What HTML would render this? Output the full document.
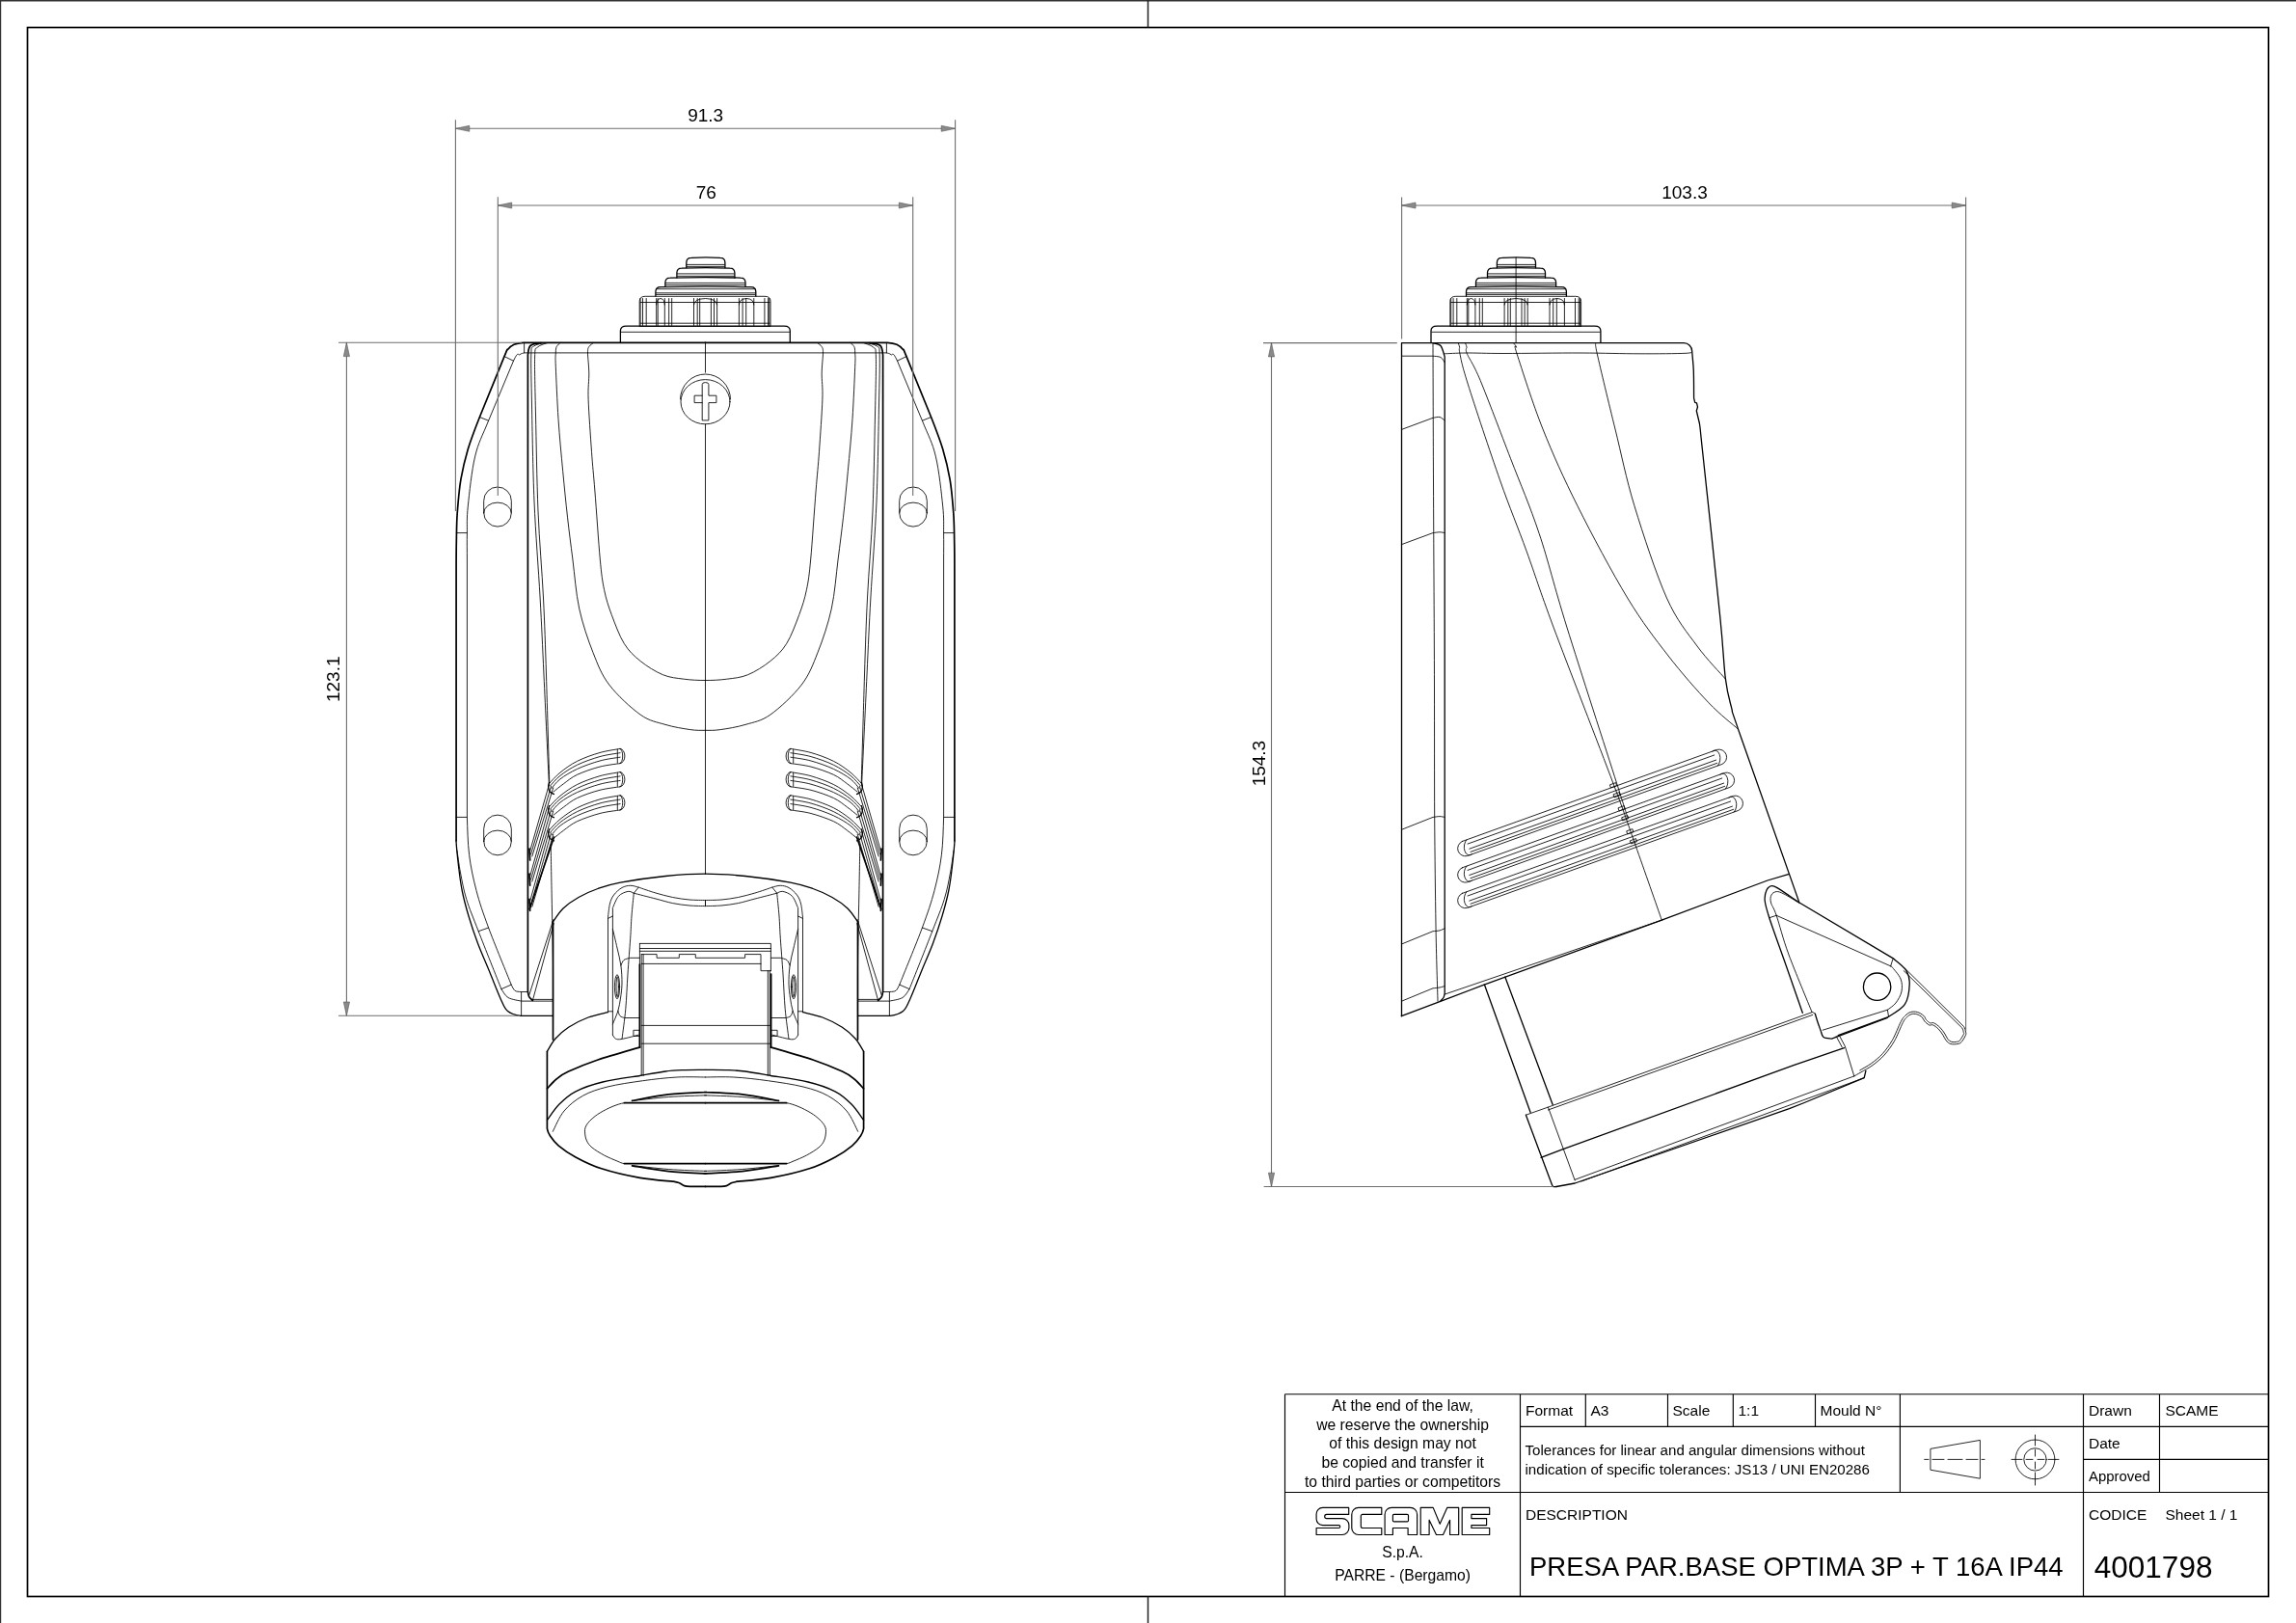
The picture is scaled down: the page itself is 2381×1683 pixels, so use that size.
<!DOCTYPE html>
<html><head><meta charset="utf-8">
<style>
html,body{margin:0;padding:0;background:#fff;overflow:hidden;}
svg{display:block;will-change:transform;}
text{font-family:"Liberation Sans",sans-serif;fill:#000;}
.b{fill:none;stroke:#000;stroke-width:0.85;stroke-linejoin:round;stroke-linecap:round;}
.k{fill:none;stroke:#000;stroke-width:1.7;stroke-linejoin:round;stroke-linecap:round;}
.m{fill:none;stroke:#000;stroke-width:1.3;stroke-linejoin:round;stroke-linecap:round;}
.ks{fill:none;stroke:#000;stroke-width:1.3;stroke-linejoin:round;stroke-linecap:round;}
.d{fill:none;stroke:#6e6e6e;stroke-width:1.1;}
.ar{fill:#8a8a8a;stroke:#555;stroke-width:0.6;}
.tb{fill:none;stroke:#000;stroke-width:1.15;}
</style></head>
<body>
<svg width="2381" height="1683" viewBox="0 0 2381 1683">
<!-- outer sheet edges -->
<path d="M0.5 0 V1683 M0 0.7 H2381" stroke="#333" stroke-width="1.4" fill="none"/>
<!-- inner frame -->
<rect x="28.5" y="28.5" width="2324" height="1627" fill="none" stroke="#000" stroke-width="1.7"/>
<path d="M1190.5 0 V28.5 M1190.5 1655.5 V1683" stroke="#222" stroke-width="1.5" fill="none"/>

<g id="front">
<path class="m" d="M711.8 277.7 V272.4 C711.8 269.4 713.8 267.4 716.8 267.4 Q731.8 266.4 746.9 267.4 C749.9 267.4 751.9 269.4 751.9 272.4 V277.7"/>
<path class="b" d="M712.4 274.4 H751.3"/>
<path class="b" d="M712.4 276.4 H751.3"/>
<path class="m" d="M701.9 288.1 V283.1 C701.9 280.1 703.9 278.1 706.9 278.1 Q731.9 277.1 756.9 278.1 C759.9 278.1 761.9 280.1 761.9 283.1 V288.1"/>
<path class="b" d="M702.5 283.9 H761.3"/>
<path class="b" d="M702.5 286.3 H761.3"/>
<path class="m" d="M689.9 297.2 V293.1 C689.9 290.1 691.9 288.1 694.9 288.1 Q731.5 287.1 768 288.1 C771 288.1 773 290.1 773 293.1 V297.2"/>
<path class="b" d="M690.5 293.4 H772.4"/>
<path class="b" d="M690.5 295.5 H772.4"/>
<path class="m" d="M679.9 307.1 V302.6 C679.9 299.6 681.9 297.6 684.9 297.6 Q731.8 296.6 778.8 297.6 C781.8 297.6 783.8 299.6 783.8 302.6 V307.1"/>
<path class="b" d="M680.5 299.7 H783.2"/>
<path class="b" d="M680.5 303.8 H783.2"/>
<path class="b" d="M680.5 305.4 H783.2"/>
<path class="b" d="M663.2 338.1 V312.3 Q663.2 307.3 669.2 307.3 H793 Q799 307.3 799 312.3 V338.1 Z"/>
<path class="b" d="M664.2 313.5 H798 M664.2 335.2 H798"/>
<path class="b" d="M664.1 309.5 V337.5"/>
<path class="b" d="M666.5 309.5 V337.5"/>
<path class="b" d="M670.2 309.5 V337.5"/>
<path class="b" d="M680.7 309.5 V337.5"/>
<path class="b" d="M682.2 309.5 V337.5"/>
<path class="b" d="M689.3 309.5 V337.5"/>
<path class="b" d="M693.7 309.5 V337.5"/>
<path class="b" d="M696.7 309.5 V337.5"/>
<path class="b" d="M719.5 309.5 V337.5"/>
<path class="b" d="M723.2 309.5 V337.5"/>
<path class="b" d="M725.7 309.5 V337.5"/>
<path class="b" d="M737.4 309.5 V337.5"/>
<path class="b" d="M740.5 309.5 V337.5"/>
<path class="b" d="M743.6 309.5 V337.5"/>
<path class="b" d="M766.4 309.5 V337.5"/>
<path class="b" d="M770.1 309.5 V337.5"/>
<path class="b" d="M773.7 309.5 V337.5"/>
<path class="b" d="M781.8 309.5 V337.5"/>
<path class="b" d="M792.9 309.5 V337.5"/>
<path class="b" d="M796.6 309.5 V337.5"/>
<path class="b" d="M797.8 309.5 V337.5"/>
<path class="b" d="M680.7 316 Q680.7 310 685 309.5 Q689.3 310 689.3 316"/>
<path class="b" d="M719.5 316 Q719.5 310 731.5 309.5 Q743.6 310 743.6 316"/>
<path class="b" d="M766.4 316 Q766.4 310 774.1 309.5 Q781.8 310 781.8 316"/>
<path class="m" d="M643.4 355.4 V343.1 Q643.4 338.1 649.4 338.1 H813.3 Q819.3 338.1 819.3 343.1 V355.4"/>
<path class="b" d="M644.2 344.3 H818.5"/>
<g id="fl">
<path class="k" d="M731.5 355.3 H542.7C538.2 355.6 535.7 356.1 533 357.3C530.3 358.5 528.2 360.4 526.5 362.5C524.8 364.6 527.9 357.9 523 369.6L497.4 432.5C491.1 448.5 488.6 454.9 485.3 465.7C482.1 476.5 479.8 486.1 477.9 497.2C476 508.3 475 521.5 474.2 532.3C473.4 543.1 473.5 552.4 473.3 562C473.1 571.6 473.1 580.3 473.1 590V871.8"/>
<path class="m" d="M473 871.8C473.4 879.8 474.5 889.4 475.5 898C476.5 906.6 477.4 914.8 479.2 923.5C480.9 932.2 483.3 940.9 486 950C488.7 959.1 492 968.9 495.5 978.2C499 987.5 503.1 996.4 507 1006C510.9 1015.6 516 1028.8 519.2 1035.9C522.5 1043 523 1045.6 526.5 1048.5C530 1051.4 534.3 1052.6 539.9 1053.4H573.5"/>
<path class="b" d="M543.6 355.3 V366C542.2 366.3 540.9 366.3 539 367.7C537.1 369.1 537.9 362.8 532.5 374.2L506.6 436.2C500 452.7 496.2 458.3 492.7 473.1C489.1 487.9 486.7 511.6 485.3 524.9C483.9 538.1 484.5 543.4 484.4 552.6C484.2 561.8 484.4 572.1 484.4 580V847.4C484.8 858.5 485 873.8 486.6 886.5C488.2 899.2 490.7 910.9 494 923.5C497.3 936.1 500.6 945.7 506.6 962C512.6 978.3 526.3 1011.2 530.2 1021.1C530.8 1022.1 532.3 1026.1 534 1027.3C535.7 1028.5 537.9 1028.3 540.6 1028.5H547.3"/>
<path class="b" d="M474 882.1C474.6 885.9 475.9 896.6 477.5 905C479.1 913.4 480.6 922.3 483.7 932.4C486.8 942.5 490.2 950.2 496.2 965.7C502.2 981.2 515.9 1015.6 519.9 1025.6C521.1 1027.1 523.5 1032.4 527 1034.5C530.5 1036.6 538.3 1037.5 540.6 1038.1H573.5"/>
<path class="b" d="M523 369.6 L532.5 374.2 M497.4 432.5 L506.6 436.2 M473.3 552.6 H484.4 M473 847.4 H484.4 M496.2 965.7 L506.6 962 M519.9 1025.6 L530.2 1021.1 M540.6 1028.5 V1053.4"/>
<path class="b" d="M501.7 531.8 V519.3 A14.3 14.3 0 0 1 530.3 519.3 V531.8 A14.3 14.3 0 0 1 501.7 531.8 Z"/>
<path class="b" d="M501.7 531.8 A14.3 10.7 0 0 1 530.3 531.8"/>
<path class="b" d="M501.7 872.5 V859.4 A14.3 14.3 0 0 1 530.3 859.4 V872.5 A14.3 14.3 0 0 1 501.7 872.5 Z"/>
<path class="b" d="M501.7 872.5 A14.3 11.4 0 0 1 530.3 872.5"/>
<path class="k" d="M561 355.5C559.2 356 552.3 356.4 550 358.5C547.7 360.6 547.8 366.4 547.4 368V1028.5C547.6 1029.4 547.9 1032.2 548.7 1033.7C549.5 1035.2 551.8 1036.8 552.4 1037.4"/>
<path class="b" d="M565 355.5C563.1 356.1 555.9 356.9 553.5 359C551.1 361.1 551.1 357.8 550.8 368C550.5 378.2 551 394.7 551.5 420C552 445.3 552.6 486.7 554 520C555.4 553.3 558.4 590 560.1 620C561.8 650 562.5 667.7 564 700C565.5 732.3 568.5 795 569.4 814"/>
<path class="b" d="M568 355.5C566.2 356.2 559.7 357.6 557.5 360C555.3 362.4 554.9 358.3 554.6 370C554.3 381.7 554.9 403.3 555.5 430C556.1 456.7 556.7 498.3 558 530C559.3 561.7 562.1 591.7 563.5 620C564.9 648.3 565.5 668 566.5 700C567.5 732 569.2 793.3 569.8 812"/>
<path class="b" d="M543.6 365.9 H731.5"/>
<path class="b" d="M581 355.5C580.4 356.2 578 357.8 577.2 359.5C576.4 361.2 576.4 362.5 576.3 366C576.1 369.5 575.8 368.9 576.3 380.3C576.8 391.7 577.8 416.4 579 434.5C580.2 452.6 582.1 471.8 583.7 488.7C585.3 505.6 586.8 521 588.5 536.2C590.2 551.4 591.9 564.2 593.9 580C595.9 595.8 597.2 615 600.7 631.1C604.2 647.2 609.7 663.2 614.9 676.4C620.1 689.5 623.5 699.2 631.7 710C639.9 720.8 654.4 734.2 664.1 741.1C673.8 748 681.4 748.8 690 751.4C698.6 754 708.9 755.6 715.8 756.6C722.7 757.6 726.3 757.3 731.5 757.3"/>
<path class="b" d="M615.5 355.5C614.7 356.2 611.8 357.8 610.8 359.5C609.8 361.2 609.5 361.4 609.5 366C609.5 370.6 610.7 379.1 610.8 387.1C610.9 395.1 609.6 400.6 610.1 414.2C610.6 427.8 612.4 452.6 613.5 468.4C614.6 484.2 615.4 490.4 616.9 509C618.4 527.6 620.7 562.9 622.3 580C623.9 597.1 624.6 602.1 626.6 611.7C628.6 621.3 630.8 628.3 634.3 637.6C637.8 646.9 642.3 659.4 647.3 667.4C652.3 675.4 657.4 680.1 664.1 685.5C670.8 690.9 679.9 696.6 687.4 699.7C694.9 702.8 701.9 703.2 709.3 704.2C716.6 705.2 724.1 705.5 731.5 705.5"/>
<path class="b" d="M643.1 776.4C639.6 777.1 629.4 778.4 622 780.5C614.6 782.6 605.4 785.9 598.6 789.3C591.8 792.7 585.9 797.1 581 801C576.1 804.9 571.2 810.8 569.3 812.7"/>
<path class="b" d="M643.1 791.6C639.6 792.2 629.4 793.2 622 795.1C614.6 797 604.9 800.4 598.6 803.3C592.4 806.2 588.6 809.8 584.5 812.7C580.4 815.7 575.8 819.6 574 821"/>
<path class="b" d="M643.1 780.7C639.6 781.3 629.4 782.5 622 784.6C614.6 786.7 605.4 789.9 598.6 793.2C591.8 796.5 585.7 800.6 581 804.3C576.3 807.9 572.2 813.2 570.5 815"/>
<path class="b" d="M643.1 785.2C639.6 785.8 629.4 786.9 622 789C614.6 791 605.4 794.3 598.6 797.4C591.8 800.6 585.4 804.4 581 807.8C576.6 811.1 573.5 815.9 572 817.5"/>
<path class="b" d="M643.1 776.4 A4.8 7.6 0 0 1 643.1 791.6"/>
<path class="b" d="M643.1 776.4 A2.6 7.6 0 0 1 643.1 791.6 M640.3 777 V791.2"/>
<path class="m" d="M569.6 811.5C569.4 812.2 568.5 814.4 568.6 816C568.7 817.6 569.2 819.8 570.2 821C571.2 822.2 573.8 823.1 574.5 823.5"/>
<path class="b" d="M569.3 814 L549.2 884"/>
<path class="b" d="M571.5 815.5 L550.5 886"/>
<path class="b" d="M573.7 817 L551.8 888"/>
<path class="k" d="M549 880 L549.6 892"/>
<path class="b" d="M643.1 800.6C639.6 801.3 629.4 802.6 622 804.7C614.6 806.9 605.4 810.1 598.6 813.5C591.8 816.9 585.9 821.3 581 825.2C576.1 829.1 571.2 835 569.3 836.9"/>
<path class="b" d="M643.1 815.8C639.6 816.4 629.4 817.4 622 819.3C614.6 821.2 604.9 824.6 598.6 827.5C592.4 830.4 588.6 834 584.5 836.9C580.4 839.9 575.8 843.8 574 845.2"/>
<path class="b" d="M643.1 804.9C639.6 805.5 629.4 806.7 622 808.8C614.6 810.9 605.4 814.1 598.6 817.4C591.8 820.7 585.7 824.8 581 828.5C576.3 832.1 572.2 837.4 570.5 839.2"/>
<path class="b" d="M643.1 809.4C639.6 810 629.4 811.1 622 813.2C614.6 815.2 605.4 818.5 598.6 821.6C591.8 824.8 585.4 828.6 581 832C576.6 835.3 573.5 840.1 572 841.7"/>
<path class="b" d="M643.1 800.6 A4.8 7.6 0 0 1 643.1 815.8"/>
<path class="b" d="M643.1 800.6 A2.6 7.6 0 0 1 643.1 815.8 M640.3 801.2 V815.4"/>
<path class="m" d="M569.6 835.7C569.4 836.5 568.5 838.6 568.6 840.2C568.7 841.8 569.2 844 570.2 845.2C571.2 846.5 573.8 847.3 574.5 847.7"/>
<path class="b" d="M569.3 838.2 L549.2 910.1"/>
<path class="b" d="M571.5 839.7 L550.5 912.1"/>
<path class="b" d="M573.7 841.2 L551.8 914.1"/>
<path class="k" d="M549 906.1 L549.6 918.1"/>
<path class="b" d="M643.1 824.8C639.6 825.5 629.4 826.8 622 828.9C614.6 831 605.4 834.3 598.6 837.7C591.8 841.1 585.9 845.5 581 849.4C576.1 853.3 571.2 859.1 569.3 861.1"/>
<path class="b" d="M643.1 840C639.6 840.6 629.4 841.5 622 843.5C614.6 845.5 604.9 848.8 598.6 851.7C592.4 854.6 588.6 858.1 584.5 861.1C580.4 864.1 575.8 868 574 869.4"/>
<path class="b" d="M643.1 829.1C639.6 829.7 629.4 830.9 622 833C614.6 835.1 605.4 838.3 598.6 841.6C591.8 844.9 585.7 849 581 852.7C576.3 856.3 572.2 861.6 570.5 863.4"/>
<path class="b" d="M643.1 833.6C639.6 834.2 629.4 835.3 622 837.4C614.6 839.4 605.4 842.7 598.6 845.8C591.8 849 585.4 852.8 581 856.2C576.6 859.5 573.5 864.3 572 865.9"/>
<path class="b" d="M643.1 824.8 A4.8 7.6 0 0 1 643.1 840"/>
<path class="b" d="M643.1 824.8 A2.6 7.6 0 0 1 643.1 840 M640.3 825.4 V839.6"/>
<path class="m" d="M569.6 859.9C569.4 860.6 568.5 862.8 568.6 864.4C568.7 866 569.2 868.1 570.2 869.4C571.2 870.6 573.8 871.5 574.5 871.9"/>
<path class="b" d="M569.3 862.4 L549.2 936.3"/>
<path class="b" d="M571.5 863.9 L550.5 938.3"/>
<path class="b" d="M573.7 865.4 L551.8 940.3"/>
<path class="k" d="M549 932.3 L549.6 944.3"/>
<path class="k" d="M574.5 868 L549.2 942.7"/>
<path class="b" d="M573.9 953.5 L548.7 1032 M574.2 957.5 L552.4 1037.4"/>
<path class="b" d="M571.3 878.8C571.4 887.3 571.8 909.8 572.2 930C572.6 950.2 573.3 975.3 573.5 1000C573.7 1024.7 573.5 1065 573.5 1078"/>
<path class="b" d="M552.4 1036.4 H573.5"/>
<path class="k" d="M573.5 1078 V955.9"/>
<path class="m" d="M573.5 955.9C575.2 953.6 579.6 946.2 584 942C588.4 937.8 594 933.9 600 930.5C606 927.1 612.8 924 620 921.5C627.2 919 631.6 917.4 643.3 915.2C655 913 675.3 910 690 908.5C704.7 907 717.7 906.1 731.5 906.1"/>
<path class="m" d="M630.5 1049.6C627.1 1050.5 616.8 1052.4 610 1055C603.2 1057.6 595.3 1061.5 589.6 1065.2C583.9 1068.9 579.7 1072.8 576 1077C572.3 1081.2 568.8 1088.1 567.4 1090.3"/>
<path class="k" d="M567.4 1090.3 V1170.3C567.9 1173.2 568.4 1174.7 570.4 1177.7C572.4 1180.7 574.9 1184.4 579.3 1188.1C583.7 1191.8 589.6 1196 597 1199.9C604.4 1203.9 612.6 1208.2 623.7 1211.8C634.8 1215.4 651.4 1219.2 663.7 1221.4C676 1223.6 692 1224.5 697.7 1225.1C698.8 1225.3 702 1225.8 704 1226.5C706 1227.2 707.6 1229 709.6 1229.6C711.6 1230.2 712.4 1230.2 716 1230.3C719.6 1230.4 726.3 1230.4 731.5 1230.4"/>
<path class="k" d="M567.4 1128.9C569 1127.2 573.3 1122 577 1119C580.7 1116 582.4 1114.4 589.6 1111.1C596.8 1107.8 607.6 1103.2 620 1099C632.4 1094.8 656.4 1088.1 663.7 1085.9"/>
<path class="m" d="M567.4 1161.4C569.5 1158.7 575.1 1149.9 580 1145C584.9 1140.1 589.5 1135.6 597 1131.8C604.5 1128 613.9 1124.7 625 1122C636.1 1119.3 657.2 1116.6 663.7 1115.5C668.1 1114.8 682.3 1112 690 1111C697.7 1110 703.1 1109.9 710 1109.6C716.9 1109.3 724.3 1109.4 731.5 1109.4"/>
<path class="b" d="M573.3 1173.3C575.2 1169.8 579.8 1158.2 585 1152C590.2 1145.8 596.9 1140.5 604.4 1136.3C611.9 1132.1 619.6 1129.6 630 1127C640.4 1124.4 654.6 1122.4 666.6 1120.7C678.6 1119 691.4 1117.6 702.2 1117C713 1116.4 726.6 1117 731.5 1117"/>
<path class="b" d="M647.4 1143.7C643.2 1144.3 639.2 1145.8 635 1147.5C630.8 1149.2 625.9 1151.8 622.2 1154C618.5 1156.2 615.5 1158.7 613 1161C610.5 1163.3 608.6 1165.7 607.5 1168C606.4 1170.3 606.4 1172.5 606.6 1175C606.8 1177.5 607.3 1180.5 608.5 1183C609.7 1185.5 611 1187.5 614 1190C617 1192.5 622.3 1195.7 626.6 1198C630.9 1200.3 636.5 1202.6 640 1204C643.5 1205.4 644.1 1206.2 647.4 1206.6"/>
<path class="k" d="M647.4 1143.7 H731.5 M647.4 1206.6 H731.5"/>
<path class="k" d="M655.5 1141.4C661.8 1140.3 680.5 1136.3 693.3 1134.8C706.1 1133.3 726 1132.9 732.5 1132.5"/>
<path class="b" d="M655.5 1141.6C661.8 1140.9 680.5 1138.5 693.3 1137.5C706.1 1136.5 726 1136.1 732.5 1135.8"/>
<path class="k" d="M655.5 1208.8C661.8 1209.8 680.5 1213.3 693.3 1214.7C706.1 1216.1 726 1216.5 732.5 1216.9"/>
<path class="b" d="M655.5 1208.6C661.8 1209.2 680.5 1211.5 693.3 1212.5C706.1 1213.5 726 1214.1 732.5 1214.4"/>
<path class="b" d="M630.5 1049 V951.2C630.8 948.8 631.5 940.9 632.5 937C633.5 933.1 634.5 930.8 636.6 928C638.7 925.2 642.1 922.1 645 920.5C647.9 918.9 650.8 918.4 653.7 918.3C656.6 918.2 660.8 919.8 662.2 920.1C665.2 921.1 674.1 924.3 680 926C685.9 927.7 691.8 929.3 697.6 930.5C703.4 931.7 709.4 932.5 715 933C720.6 933.5 728.8 933.4 731.5 933.5"/>
<path class="b" d="M635.4 1073.2 V941.5C636.4 939.5 638.9 932.1 641.5 929.3C644.1 926.4 648.6 924.9 651.2 924.4C653.8 923.9 656.3 925.9 657.3 926.2C661.1 927.2 673.3 930.3 680 932C686.7 933.7 691.8 935.4 697.6 936.6C703.4 937.8 709.4 938.5 715 939C720.6 939.5 728.8 939.5 731.5 939.6"/>
<path class="b" d="M630.5 952.4 L635.4 950 M662.2 920.1 L657.3 926.2 M731.5 933.5 V939.6 M630.5 1048.8 H635.4"/>
<path class="b" d="M657.3 926.2C656.9 930.2 655.6 942.2 655 950C654.4 957.8 654.4 963.2 653.7 973.2C653 983.2 651.8 997.8 651 1010C650.2 1022.2 649.8 1035.2 648.8 1046.3C647.8 1057.4 645.7 1071.7 645.1 1076.8"/>
<path class="b" d="M635.4 963.4C636.2 966.7 638.6 976.7 640 983C641.4 989.3 643.1 995 643.9 1001.2C644.7 1007.4 645.1 1014.4 645 1020C644.9 1025.6 644.2 1030.3 643.5 1035C642.8 1039.7 642.2 1043.7 640.9 1048.2C639.5 1052.7 636.3 1059.7 635.4 1062"/>
<path class="b" d="M643.9 1001.2C644.4 1000.2 645.4 996.8 647 995.5C648.6 994.2 652.6 993.7 653.7 993.3H663.4"/>
<path class="b" d="M640.9 1048.2C641.2 1049.1 641.9 1052.3 643 1053.5C644.1 1054.7 646.8 1055.2 647.6 1055.5H663.4"/>
<path class="b" d="M635.4 1073.2C635.9 1073.9 636.9 1076.5 638.5 1077.2C640.1 1077.9 641.1 1078.1 645.1 1077.4C649.1 1076.7 659.4 1073.9 662.2 1073.2"/>
<ellipse class="b" cx="640" cy="1023.2" rx="2.6" ry="12.5"/>
<ellipse class="b" cx="640.2" cy="1023.2" rx="1.2" ry="10.5"/>
<path class="b" d="M657.3 1068.3 H663.4 V1074.4 H657.3 Z"/>
</g>
<use href="#fl" transform="translate(1463 0) scale(-1 1)"/>
<path class="b" d="M705.5 414 A26 26 0 0 1 757.5 414"/>
<ellipse class="b" cx="731.5" cy="416.7" rx="25.5" ry="23.1"/>
<path class="b" d="M728.2 435.5 V398.5 Q728.2 396.6 731.5 396.6 Q734.9 396.6 734.9 398.5 V410.2 H742.9 V417.6 H734.9 V435.5 Z M728.2 410.2 H720.1 V417.6 H728.2"/>
<path class="b" d="M731.5 355.3 V386.2 M731.5 439.8 V906.1"/>
<path class="b" d="M663.4 978.4 H799.4 V1006.7 M663.4 983.5 H799.4 M663.4 986.3 H799.4"/>
<path class="b" d="M665.2 989.6 H681.1 V993.3 H704.3 V989.6 H721.3 V993.3 H772.6 V989.6 H789 V1006.7 H799.4"/>
<path class="b" d="M665.2 999.4 H789"/>
<path class="b" d="M665.2 1063.4 H798.5 M665.2 1082.2 H798.5"/>
<path class="b" d="M663.4 978.4 V1086 M665.2 989.6 V1115.5 M667.1 989.6 V1115.5 M796.3 1006.7 V1115.5 M798.3 1006.7 V1115.5"/>
<path class="k" d="M663.4 1000 V1086 M799.6 1010 V1086"/>
</g>
<g id="side">
<path class="m" d="M1552.4 277.7 V272.4 C1552.4 269.4 1554.4 267.4 1557.4 267.4 Q1572.5 266.4 1587.5 267.4 C1590.5 267.4 1592.5 269.4 1592.5 272.4 V277.7"/>
<path class="b" d="M1553 274.4 H1591.9"/>
<path class="b" d="M1553 276.4 H1591.9"/>
<path class="m" d="M1542.5 288.1 V283.1 C1542.5 280.1 1544.5 278.1 1547.5 278.1 Q1572.5 277.1 1597.5 278.1 C1600.5 278.1 1602.5 280.1 1602.5 283.1 V288.1"/>
<path class="b" d="M1543.1 283.9 H1601.9"/>
<path class="b" d="M1543.1 286.3 H1601.9"/>
<path class="m" d="M1530.5 297.2 V293.1 C1530.5 290.1 1532.5 288.1 1535.5 288.1 Q1572 287.1 1608.6 288.1 C1611.6 288.1 1613.6 290.1 1613.6 293.1 V297.2"/>
<path class="b" d="M1531.1 293.4 H1613"/>
<path class="b" d="M1531.1 295.5 H1613"/>
<path class="m" d="M1520.5 307.1 V302.6 C1520.5 299.6 1522.5 297.6 1525.5 297.6 Q1572.5 296.6 1619.4 297.6 C1622.4 297.6 1624.4 299.6 1624.4 302.6 V307.1"/>
<path class="b" d="M1521.1 299.7 H1623.8"/>
<path class="b" d="M1521.1 303.8 H1623.8"/>
<path class="b" d="M1521.1 305.4 H1623.8"/>
<path class="b" d="M1503.8 338.1 V312.3 Q1503.8 307.3 1509.8 307.3 H1633.6 Q1639.6 307.3 1639.6 312.3 V338.1 Z"/>
<path class="b" d="M1504.8 313.5 H1638.6 M1504.8 335.2 H1638.6"/>
<path class="b" d="M1504.7 309.5 V337.5"/>
<path class="b" d="M1507.1 309.5 V337.5"/>
<path class="b" d="M1510.8 309.5 V337.5"/>
<path class="b" d="M1521.3 309.5 V337.5"/>
<path class="b" d="M1522.8 309.5 V337.5"/>
<path class="b" d="M1529.9 309.5 V337.5"/>
<path class="b" d="M1534.3 309.5 V337.5"/>
<path class="b" d="M1537.3 309.5 V337.5"/>
<path class="b" d="M1560.1 309.5 V337.5"/>
<path class="b" d="M1563.8 309.5 V337.5"/>
<path class="b" d="M1566.3 309.5 V337.5"/>
<path class="b" d="M1578 309.5 V337.5"/>
<path class="b" d="M1581.1 309.5 V337.5"/>
<path class="b" d="M1584.2 309.5 V337.5"/>
<path class="b" d="M1607 309.5 V337.5"/>
<path class="b" d="M1610.7 309.5 V337.5"/>
<path class="b" d="M1614.3 309.5 V337.5"/>
<path class="b" d="M1622.4 309.5 V337.5"/>
<path class="b" d="M1633.5 309.5 V337.5"/>
<path class="b" d="M1637.2 309.5 V337.5"/>
<path class="b" d="M1638.4 309.5 V337.5"/>
<path class="b" d="M1521.3 316 Q1521.3 310 1525.6 309.5 Q1529.9 310 1529.9 316"/>
<path class="b" d="M1560.1 316 Q1560.1 310 1572.2 309.5 Q1584.2 310 1584.2 316"/>
<path class="b" d="M1607 316 Q1607 310 1614.7 309.5 Q1622.4 310 1622.4 316"/>
<path class="m" d="M1484 355.4 V343.1 Q1484 338.1 1490 338.1 H1653.9 Q1659.9 338.1 1659.9 343.1 V355.4"/>
<path class="b" d="M1484.8 344.3 H1659.1"/>
<path class="b" d="M1572.1 267.3 V355.5"/>
<path class="ks" d="M1453.5 1053.7 V355.7 H1746.2 A8.5 8.5 0 0 1 1754.7 364.2C1755 369.2 1756 376.9 1756.3 385C1756.6 393.1 1756.5 408.2 1756.6 412.8L1757.7 417.4 L1759.5 417.8 L1760.5 422 L1759.3 426 L1762.4 439C1763.5 446.3 1762.2 436.5 1765.8 470C1769.4 503.5 1779.9 601 1783.8 640C1787.7 679 1787.4 688.3 1789.4 704.1C1791.4 719.9 1793.6 725.9 1795.8 734.6C1798 743.3 1792.7 727.4 1802.5 756.1L1865.7 935.4"/>
<path class="ks" d="M1453.3 1053.7L1498.4 1036.7L1539.1 1021.1L1723.9 953.9L1832.9 913L1854.5 906.6"/>
<path class="b" d="M1498.4 1031L1723.9 954"/>
<path class="b" d="M1486 355.7C1486.1 379.8 1486.3 459.3 1486.5 500C1486.7 540.7 1486.8 564.2 1487 600C1487.2 635.8 1487.4 673.8 1487.5 715C1487.6 756.2 1487.5 806.2 1487.7 847C1488 887.8 1488.5 928.1 1489 960C1489.5 991.9 1490.7 1025.2 1491 1038.2"/>
<path class="ks" d="M1486 355.7C1487.3 356.2 1492 356.1 1494 358.5C1496 360.9 1497.5 368.1 1498.2 370V1030C1498 1030.8 1497.7 1033.2 1497 1034.5C1496.3 1035.8 1494.5 1037.2 1494 1037.7"/>
<path class="b" d="M1453.5 369.2 H1485.8C1487.2 369.4 1491.9 369.4 1494 370.5C1496.1 371.6 1497.5 375.1 1498.2 376"/>
<path class="b" d="M1453.5 445.4 L1486 433.3C1487.2 433.2 1491 432 1493 432.5C1495 433 1497.3 435.5 1498.2 436.1"/>
<path class="b" d="M1453.5 564.6 L1486 552.6C1487.2 552.5 1491 551.8 1493 551.8C1495 551.8 1497.3 552.5 1498.2 552.6"/>
<path class="b" d="M1453.5 860.3 L1486 847.4C1487.2 847.3 1491 846.6 1493 846.6C1495 846.6 1497.3 847.3 1498.2 847.4"/>
<path class="b" d="M1453.5 979 L1486 965.7C1487.2 965.6 1491 965.4 1493 964.9C1495 964.4 1497.3 963.1 1498.2 962.7"/>
<path class="b" d="M1453.5 1038.2 L1486 1024.8C1487.2 1024.7 1491 1024.4 1493 1024C1495 1023.6 1497.3 1022.8 1498.2 1022.6"/>
<path class="b" d="M1498.2 366.8C1501.8 366.7 1509.7 366.1 1520 366C1530.3 365.9 1540 366.5 1560 366.5C1580 366.5 1616.7 365.9 1640 366C1663.3 366.1 1682 366.8 1700 366.8C1718 366.9 1738.9 366.7 1748 366.3C1757.1 365.9 1753.3 364.8 1754.4 364.5"/>
<path class="b" d="M1512 355.5C1512.3 356.2 1513.3 358.1 1513.6 360C1513.9 361.9 1512.5 360.2 1513.9 366.6C1515.3 373 1515.3 376.2 1522.2 398.1C1529.1 420 1545.3 468.9 1555.5 497.9C1565.7 526.9 1574 546.5 1583.2 571.9C1592.4 597.3 1596 610 1610.9 650.1C1625.9 690.2 1658.7 774.4 1672.9 812.2C1687.1 850 1687.8 853.4 1696.2 877C1704.6 900.6 1718.7 941.1 1723.2 953.9"/>
<path class="b" d="M1519.4 355.5C1519.7 356.2 1520.7 358.1 1521 360C1521.3 361.9 1519 360.9 1521.3 366.6C1523.6 372.3 1527.5 376.2 1535.1 394.4C1542.6 412.6 1556.4 449.2 1566.6 475.7C1576.8 502.2 1586.5 524.3 1596.2 553.4C1605.9 582.5 1611.4 607 1624.8 650.1C1638.2 693.2 1666.1 779.2 1676.6 812.2C1687.1 845.2 1686.1 842 1688 848"/>
<path class="b" d="M1569.4 355.7C1569.9 356.4 1571.9 358.1 1572.5 360C1573.1 361.9 1568.5 352.8 1573.1 367C1577.7 381.2 1589.5 418.7 1600 445C1610.5 471.3 1621.4 495.6 1636 524.8C1650.6 554 1672 594.1 1687.7 620C1703.4 645.9 1716 661.9 1730 680C1744 698.1 1759.9 716.1 1772 728.8C1784.1 741.5 1797.4 751.5 1802.5 756.1"/>
<path class="b" d="M1655.3 355.7C1655.5 357.6 1653 352.1 1656.3 367C1659.6 381.9 1668.5 418.7 1675 445C1681.5 471.3 1686.1 495.6 1695 524.8C1703.9 554 1717.6 595.8 1728.4 620C1739.2 644.2 1749.8 656 1760 670C1770.2 684 1784.5 698.4 1789.4 704.1"/>
<path class="b" d="M1669.8 813.7 L1675.6 811.6 L1676.6 814.7 L1670.8 816.8 Z"/>
<path class="b" d="M1673.4 823.7 L1679.2 821.6 L1680.2 824.7 L1674.4 826.8 Z"/>
<path class="b" d="M1678.4 837.7 L1684.2 835.6 L1685.2 838.7 L1679.4 840.8 Z"/>
<path class="b" d="M1682 847.7 L1687.8 845.6 L1688.8 848.7 L1683 850.8 Z"/>
<path class="b" d="M1687.1 861.7 L1692.9 859.6 L1693.9 862.7 L1688.1 864.8 Z"/>
<path class="b" d="M1690.7 871.7 L1696.5 869.6 L1697.5 872.7 L1691.7 874.8 Z"/>
<path class="b" d="M1516.3 872.5 L1780.5 777.4 A8 8 0 0 1 1785.9 792.4 L1521.7 887.5 A8 8 0 0 1 1516.3 872.5 Z"/>
<path class="b" d="M1522 875.1 L1777.7 783"/>
<path class="b" d="M1523.8 880.2 L1779.6 788.1"/>
<path class="b" d="M1525 883.4 L1780.7 791.3"/>
<path class="b" d="M1521 870.8 A5 8 0 0 0 1526.4 885.8"/>
<path class="b" d="M1775.8 779.1 A5 8 0 0 1 1781.2 794.1"/>
<path class="b" d="M1516.3 899.8 L1788.5 801.4 A8 8 0 0 1 1793.9 816.4 L1521.7 914.8 A8 8 0 0 1 1516.3 899.8 Z"/>
<path class="b" d="M1522 902.4 L1785.7 807"/>
<path class="b" d="M1523.8 907.5 L1787.6 812.1"/>
<path class="b" d="M1525 910.7 L1788.7 815.3"/>
<path class="b" d="M1521 898.1 A5 8 0 0 0 1526.4 913.1"/>
<path class="b" d="M1783.8 803.1 A5 8 0 0 1 1789.2 818.1"/>
<path class="b" d="M1516.3 926.4 L1797.4 825.4 A8 8 0 0 1 1802.8 840.4 L1521.7 941.4 A8 8 0 0 1 1516.3 926.4 Z"/>
<path class="b" d="M1522 929 L1794.6 831"/>
<path class="b" d="M1523.8 934.1 L1796.5 836.1"/>
<path class="b" d="M1525 937.3 L1797.6 839.3"/>
<path class="b" d="M1521 924.7 A5 8 0 0 0 1526.4 939.7"/>
<path class="b" d="M1792.7 827.1 A5 8 0 0 1 1798.1 842.1"/>
<path class="ks" d="M1539.4 1021L1587.1 1153.5"/>
<path class="m" d="M1560.8 1013L1610.2 1145.4"/>
<path class="b" d="M1582.4 1156.2L1605.4 1148.1L1879.7 1049.5L1882.3 1051.2"/>
<path class="b" d="M1605.4 1151L1879.7 1052.4"/>
<path class="ks" d="M1882.3 1051.2C1882.8 1052.7 1884 1057 1885 1060C1886 1063 1887.8 1067.8 1888.3 1069.3C1888.8 1070.3 1889.1 1074.2 1891 1075.5C1892.9 1076.8 1898.1 1076.8 1899.5 1077.1L1957.3 1055.5"/>
<path class="ks" d="M1582.4 1156.2L1609.5 1228.8C1609.8 1229.1 1610.2 1230.3 1611 1230.6C1611.8 1230.9 1613.5 1230.5 1614 1230.5"/>
<path class="b" d="M1605.4 1148.1L1633.2 1224"/>
<path class="ks" d="M1598 1200.3L1619.6 1192.2L1860 1104.7L1912.5 1086.6"/>
<path class="ks" d="M1614 1230.5L1633.2 1227L1855.5 1149.6L1871.1 1143.5L1933.2 1117.7L1934.9 1110.3"/>
<path class="b" d="M1633.2 1223.3L1922.8 1115.9"/>
<path class="b" d="M1640 1225L1933.2 1117.7"/>
<path class="b" d="M1907.3 1073.6L1913.3 1084.9L1922.8 1115.9"/>
<path class="b" d="M1904.2 1074.6L1910.3 1086"/>
<path class="m" d="M1869.3 1050.3C1866.1 1041.1 1855.8 1011.4 1850 995C1844.2 978.6 1838.1 961.9 1834.8 951.7C1831.5 941.5 1830.7 938.8 1830.2 934C1829.7 929.2 1830.8 925.6 1832 923C1833.2 920.4 1835.4 918.8 1837.5 918.6C1839.6 918.4 1839.9 918.8 1844.6 921.6C1849.3 924.5 1862.1 933.4 1865.6 935.7L1962.9 993.6C1965.2 995.7 1973.6 1001.5 1976.5 1006C1979.4 1010.5 1980.4 1014.8 1980.2 1020.7C1980 1026.7 1978.9 1036.1 1975.2 1041.7C1971.5 1047.3 1960.9 1052.4 1958 1054.6L1906.2 1073.7"/>
<path class="b" d="M1879.1 1049.7C1875.1 1039.8 1861.2 1006.7 1855 990C1848.8 973.3 1845.3 958.3 1842.2 949.3C1839.1 940.3 1837.4 939.5 1836.5 936C1835.6 932.5 1836 929.9 1837 928C1838 926.1 1840 924.8 1842.2 924.6C1844.4 924.4 1846 925 1850 927C1854 929 1863.3 934.9 1866 936.5"/>
<path class="b" d="M1842.2 949.3 L1961.7 1002.3C1963.2 1004.4 1969.3 1010.7 1971 1015C1972.7 1019.3 1972.8 1023.8 1972 1028C1971.2 1032.2 1968.4 1036.8 1966 1040C1963.6 1043.2 1958.8 1046 1957.4 1047.2L1890.2 1068.2"/>
<path class="b" d="M1834.8 951.7 L1842.2 949.3 M1962.9 994.6 L1960.6 1002 M1957.4 1047.2 L1958.6 1054.6"/>
<circle class="k" cx="1946.6" cy="1023.2" r="14.2" style="stroke-width:1.3"/>
<path class="b" d="M1975.7 1004.4 L2036.5 1064.5C2037.8 1066.4 2038.2 1068.6 2038.5 1070.1C2038.8 1071.6 2039.2 1071.6 2038.5 1073.3C2037.8 1075 2035.5 1079 2034.1 1080.5C2032.7 1082 2032 1082.2 2030.1 1082.5C2028.2 1082.8 2024.9 1083.1 2022.9 1082.5C2020.9 1081.9 2019.4 1080.4 2018.1 1078.9C2016.8 1077.4 2016.2 1075.3 2014.9 1073.3C2013.6 1071.3 2011.8 1068.6 2010.1 1066.9C2008.4 1065.2 2006.1 1063.6 2004.5 1062.9C2002.9 1062.2 2002 1063.6 2000.5 1062.9C1999 1062.2 1996.9 1060.2 1995.7 1058.9C1994.5 1057.6 1994.6 1056.1 1993.3 1054.9C1992 1053.7 1989.6 1052.2 1987.7 1051.7C1985.8 1051.2 1983.8 1051.2 1982.1 1051.7C1980.4 1052.2 1978.8 1053.4 1977.3 1054.9C1975.8 1056.4 1975.4 1056.4 1973.3 1060.5C1971.2 1064.6 1967.6 1074.1 1964.4 1079.7C1961.2 1085.3 1957.7 1089.9 1954 1094.1C1950.3 1098.2 1946 1101.6 1942 1104.6C1938 1107.5 1933.2 1109.9 1930 1111.8C1926.8 1113.7 1924 1115.2 1922.8 1115.9"/>
<path class="b" d="M1974.2 1006.6 L2034.6 1065.8C2035.9 1067.6 2036 1069.5 2036.3 1070.6C2036.6 1071.7 2037 1071 2036.4 1072.4C2035.7 1073.8 2033.5 1077.6 2032.4 1078.9C2031.3 1080.3 2031.2 1080 2029.7 1080.2C2028.2 1080.5 2025.2 1080.8 2023.6 1080.3C2021.9 1079.8 2021 1078.8 2019.8 1077.4C2018.7 1076 2018.2 1074 2016.8 1072C2015.5 1070 2013.6 1067.1 2011.7 1065.3C2009.8 1063.4 2007.1 1061.5 2005.4 1060.8C2003.7 1060 2002.8 1061.4 2001.5 1060.8C2000.1 1060.2 1998.5 1058.6 1997.4 1057.4C1996.3 1056.1 1996.4 1054.5 1994.8 1053.2C1993.3 1051.9 1990.6 1050.1 1988.3 1049.5C1986.1 1048.9 1983.5 1048.9 1981.4 1049.5C1979.3 1050.1 1977.4 1051.6 1975.7 1053.3C1974 1054.9 1973.5 1055.2 1971.3 1059.4C1969 1063.7 1965.6 1073 1962.4 1078.6C1959.2 1084.1 1955.9 1088.5 1952.3 1092.6C1948.7 1096.6 1944.5 1099.9 1940.6 1102.7C1936.7 1105.6 1930.8 1108.6 1928.8 1109.8"/>
</g>
<!-- DIMENSIONS -->
<g id="dims">
<path class="d" d="M472.4 124.3 V530 M990.6 124.3 V530 M472.4 133.3 H990.6
M516.3 204.3 V514 M946.7 204.3 V514 M516.3 213 H946.7
M351 355.3 H541 M351 1053.3 H539 M359.4 355.3 V1053.3
M1453.6 204.5 V351.5 M2038.6 204.5 V1069 M1453.6 213 H2038.6
M1310 355.6 H1448.8 M1310.6 1230.5 H1611 M1318.5 355.6 V1230.5"/>
<g class="ar">
<path d="M472.4 133.3 L486.8 130.3 V136.3 Z"/><path d="M990.6 133.3 L976.2 130.3 V136.3 Z"/>
<path d="M516.3 213 L530.7 210 V216 Z"/><path d="M946.7 213 L932.3 210 V216 Z"/>
<path d="M359.4 355.3 L356.3 369.6 H362.5 Z"/><path d="M359.4 1053.3 L356.3 1039 H362.5 Z"/>
<path d="M1453.6 213 L1468 210 V216 Z"/><path d="M2038.6 213 L2024.2 210 V216 Z"/>
<path d="M1318.5 355.6 L1315.4 369.9 H1321.6 Z"/><path d="M1318.5 1230.5 L1315.4 1216.2 H1321.6 Z"/>
</g>
<g font-size="19" text-anchor="middle">
<text x="731.7" y="126">91.3</text>
<text x="732.2" y="205.5">76</text>
<text x="1747" y="205.5">103.3</text>
<text transform="translate(352.4 704.3) rotate(-90)">123.1</text>
<text transform="translate(1311.7 791.6) rotate(-90)">154.3</text>
</g>
</g>
<!-- TITLE BLOCK -->
<g id="title">
<path class="tb" d="M1332.5 1445.7 H2352.5 M1332.5 1445.7 V1655.5 M1576.5 1445.7 V1655.5 M1332.5 1547.5 H2352.5 M1576.5 1479.4 H2352.5 M2160.5 1513.4 H2352.5
M1644.3 1445.7 V1479.4 M1729.5 1445.7 V1479.4 M1797.3 1445.7 V1479.4 M1882.5 1445.7 V1479.4 M1970.4 1445.7 V1547.5 M2160.5 1445.7 V1655.5 M2239.5 1445.7 V1547.5"/>
<g font-size="15.7" text-anchor="middle">
<text x="1454.6" y="1462.9">At the end of the law,</text>
<text x="1454.6" y="1482.6">we reserve the ownership</text>
<text x="1454.6" y="1502.3">of this design may not</text>
<text x="1454.6" y="1522.0">be copied and transfer it</text>
<text x="1454.6" y="1541.7">to third parties or competitors</text>
<text x="1454.6" y="1614.9">S.p.A.</text>
<text x="1454.6" y="1639.4">PARRE - (Bergamo)</text>
</g>
<g font-size="15.5">
<text x="1582" y="1468.2">Format</text>
<text x="1649.5" y="1468.2">A3</text>
<text x="1734.5" y="1468.2">Scale</text>
<text x="1802.5" y="1468.2">1:1</text>
<text x="1887.5" y="1468.2">Mould N°</text>
<text x="2166" y="1468.2">Drawn</text>
<text x="2245.5" y="1468.2">SCAME</text>
<text x="2166" y="1502.3">Date</text>
<text x="2166" y="1536.4" font-size="14.9">Approved</text>
<text x="1582" y="1575.7">DESCRIPTION</text>
<text x="2166" y="1575.7">CODICE</text>
<text x="2245.5" y="1575.7">Sheet 1 / 1</text>
</g>
<g font-size="15.1">
<text x="1581.5" y="1509.1">Tolerances for linear and angular dimensions without</text>
<text x="1581.5" y="1528.7">indication of specific tolerances: JS13 / UNI EN20286</text>
</g>
<text x="1586" y="1634" font-size="27.5">PRESA PAR.BASE OPTIMA 3P + T 16A IP44</text>
<text x="2171.8" y="1635.5" font-size="31.5">4001798</text>
<g class="logo" fill="none" stroke="#000" stroke-width="1.15" stroke-linejoin="round">
<path d="M1398.7 1563.4 H1371.6 A6.5 6.5 0 0 0 1365.1 1569.9 V1575.1 A6.5 6.5 0 0 0 1371.6 1581.6 H1388.3 A1.45 1.45 0 0 1 1388.3 1584.5 H1365.1 V1591.5 H1391.9 A7 7 0 0 0 1398.9 1584.5 V1581.6 A7 7 0 0 0 1391.9 1574.6 H1375.8 A2.1 2.1 0 0 1 1375.8 1570.4 H1398.7 Z"/>
<path d="M1432.8 1563.4 H1408.8 A7 7 0 0 0 1401.8 1570.4 V1584.5 A7 7 0 0 0 1408.8 1591.5 H1432.8 V1584.5 H1413 A1.7 1.7 0 0 1 1411.3 1582.8 V1572.1 A1.7 1.7 0 0 1 1413 1570.4 H1432.8 Z"/>
<path d="M1436.1 1591.5 V1570.4 A7 7 0 0 1 1443.1 1563.4 H1462.6 A7 7 0 0 1 1469.6 1570.4 V1591.5 H1460.1 V1584.5 H1444.4 V1591.5 Z M1445.6 1570.4 H1459.3 A1.2 1.2 0 0 1 1460.5 1571.6 V1576.7 A1.2 1.2 0 0 1 1459.3 1577.9 H1445.6 A1.2 1.2 0 0 1 1444.4 1576.7 V1571.6 A1.2 1.2 0 0 1 1445.6 1570.4 Z"/>
<path d="M1473.2 1591.5 V1563.4 H1486.2 L1493.2 1580.3 L1500.7 1563.4 H1512.7 V1591.5 H1503.6 V1576.2 L1496.5 1591.5 H1489.5 L1482.1 1576.2 V1591.5 Z"/>
<path d="M1516.2 1563.4 H1544.7 V1570.4 H1525.9 V1574.6 H1541.6 V1581.6 H1525.9 V1584.5 H1544.7 V1591.5 H1516.2 Z"/>
</g>
<!-- projection symbol -->
<path class="b" d="M2002.3 1502.3 L2053.4 1493.4 V1533.2 L2002.3 1524.3 Z"/>
<path class="b" d="M1995.7 1513.4 H2000 M2004 1513.4 H2016 M2020 1513.4 H2035 M2039 1513.4 H2051 M2055 1513.4 H2058"/>
<circle class="b" cx="2110.5" cy="1513.4" r="20.4"/>
<circle class="b" cx="2110.5" cy="1513.4" r="11.7"/>
<path class="b" d="M2086 1513.4 H2097 M2101 1513.4 H2108 M2113 1513.4 H2120 M2124 1513.4 H2135 M2110.5 1488 V1499 M2110.5 1503 V1510 M2110.5 1516 V1523 M2110.5 1527 V1540"/>
</g>
</svg>
</body></html>
